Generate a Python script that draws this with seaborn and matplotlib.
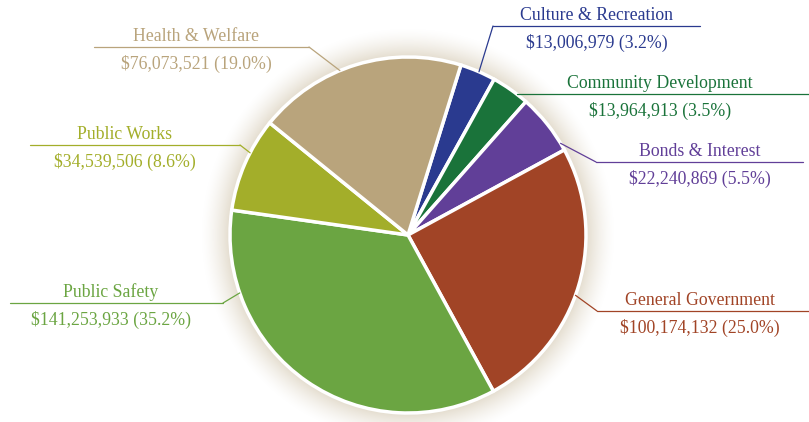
import numpy as np
import matplotlib
matplotlib.use("Agg")
import matplotlib.pyplot as plt
import seaborn as sns

# data, clockwise from the top
categories = ["Culture & Recreation", "Community Development", "Bonds & Interest",
              "General Government", "Public Safety", "Public Works", "Health & Welfare"]
amounts = [13006979, 13964913, 22240869, 100174132, 141253933, 34539506, 76073521]
pct_labels = ["3.2%", "3.5%", "5.5%", "25.0%", "35.2%", "8.6%", "19.0%"]

colors = ["#2a3a8f", "#1a733a", "#613f98", "#a14426", "#6ba542", "#a3ae2a", "#b9a47c"]

# layout (pixel coords, y measured from top)
W, H = 809, 422
cx, cy, R = 408, 235, 178
start_angle = 72.7
# label: text center x, underline y, underline x0/x1, elbow point, attach angle on pie
label_cx = [597, 660, 700, 700, 111, 125, 196]
line_y = [26, 94, 162, 311, 303, 145, 47]
line_x = [(493, 700), (None, 809), (596, 803), (597, 809), (10, 223), (30, 240), (94, 309)]
elbow = [(493, 26), None, (596, 162), (597, 311), (223, 303), (240, 145), (309, 47)]
attach_deg = [66.5, 52.4, 31.0, -19.8, 199.0, 152.5, 112.5]


def fy(y):
    return H - y


sns.set_theme(style="white")
plt.rcParams["font.family"] = ["Liberation Serif", "DejaVu Serif"]

fig = plt.figure(figsize=(W / 100, H / 100), dpi=100)
ax = fig.add_axes([0, 0, 1, 1])
ax.set_xlim(0, W)
ax.set_ylim(0, H)
ax.set_aspect("equal")
ax.axis("off")

# soft beige halo around the pie
ext = 40
xs = np.linspace(cx - R - ext, cx + R + ext, 400)
ys = np.linspace(fy(cy) - R - ext, fy(cy) + R + ext, 400)
XX, YY = np.meshgrid(xs, ys)
rr = np.hypot(XX - cx, YY - fy(cy))
t = np.clip((rr - R) / 30.0, 0, 1)
alpha = np.where(rr < R - 2, 0, 0.5 * (1 - t) ** 1.5)
img = np.zeros(XX.shape + (4,))
img[..., 0], img[..., 1], img[..., 2] = 0.78, 0.72, 0.60
img[..., 3] = alpha
ax.imshow(img, extent=(xs[0], xs[-1], ys[0], ys[-1]), origin="lower",
          interpolation="bilinear", zorder=0)

ax.pie(amounts, colors=colors, startangle=start_angle, counterclock=False,
       center=(cx, fy(cy)), radius=R, frame=True,
       wedgeprops=dict(edgecolor="white", linewidth=2.5))
ax.set_xlim(0, W)
ax.set_ylim(0, H)
ax.axis("off")

for i, name in enumerate(categories):
    c = colors[i]
    a = np.deg2rad(attach_deg[i])
    px, py = cx + R * np.cos(a), fy(cy) + R * np.sin(a)
    x0, x1 = line_x[i]
    if x0 is None:
        x0 = px
    ax.plot([x0, x1], [fy(line_y[i])] * 2, color=c, lw=0.9, zorder=5)
    if elbow[i] is not None:
        ex, ey = elbow[i]
        ax.plot([ex, px], [fy(ey), py], color=c, lw=0.9, zorder=5)
    ax.text(label_cx[i], fy(line_y[i] - 2), name, color=c, fontsize=12.8,
            ha="center", va="bottom")
    ax.text(label_cx[i], fy(line_y[i] + 8), f"${amounts[i]:,} ({pct_labels[i]})",
            color=c, fontsize=12.8, ha="center", va="top")

fig.savefig("out.png", dpi=100, facecolor="white")
